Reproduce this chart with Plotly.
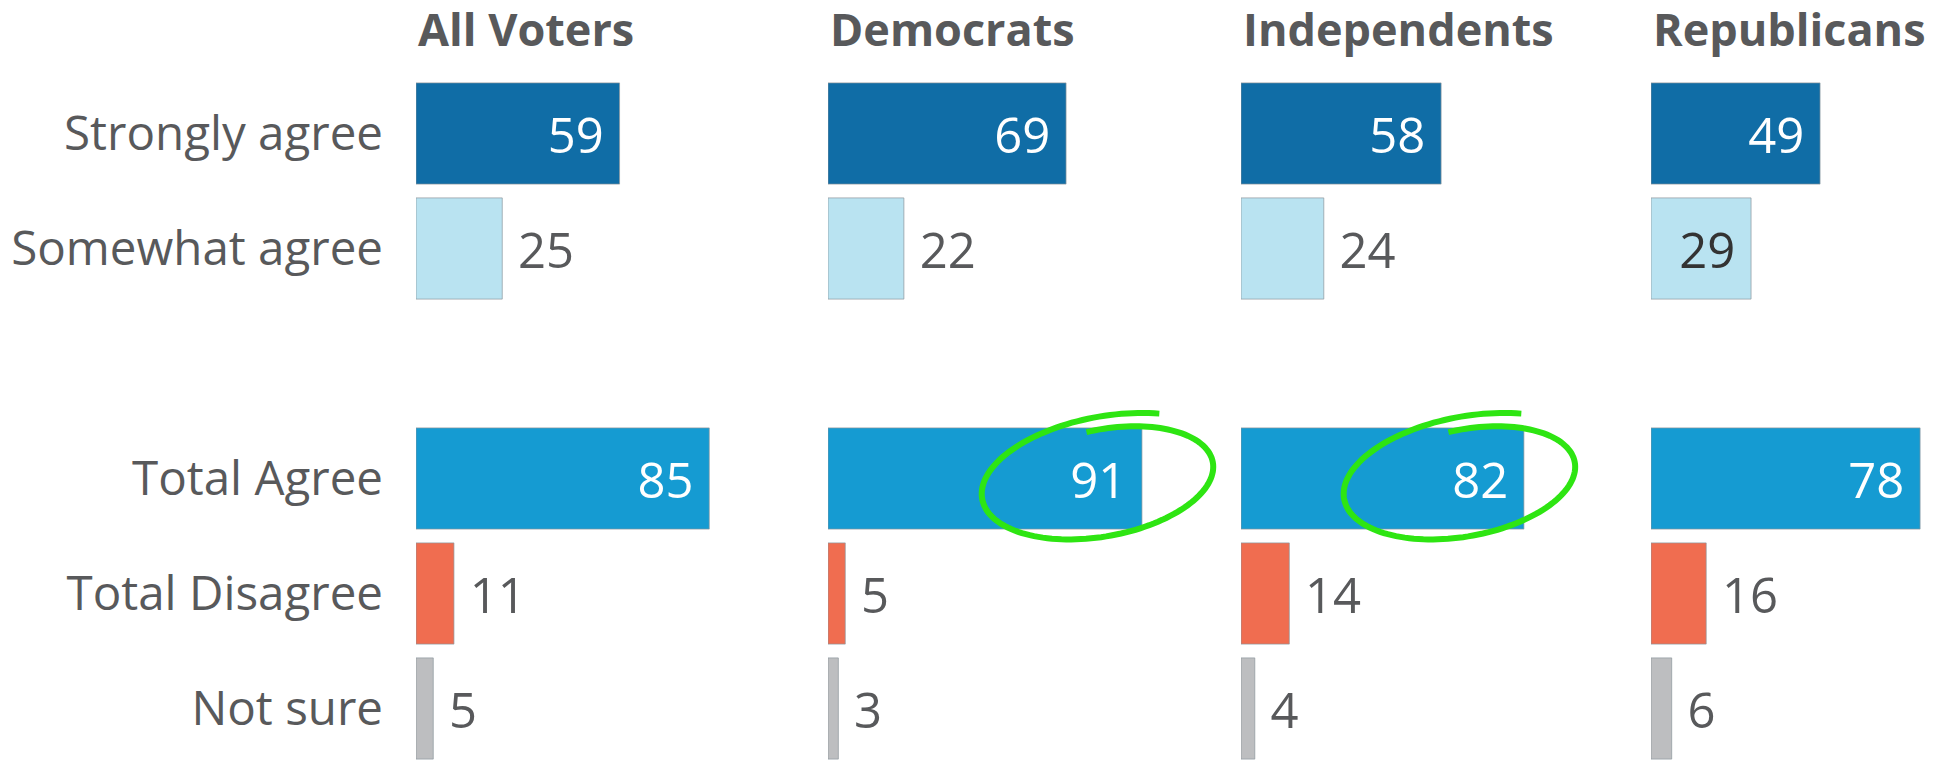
import numpy as np
import plotly.graph_objects as go
from plotly.subplots import make_subplots

# Survey results (percent)
groups = ["All Voters", "Democrats", "Independents", "Republicans"]
responses = ["Strongly agree", "Somewhat agree", "Total Agree", "Total Disagree", "Not sure"]
all_voters = [59, 25, 85, 11, 5]
democrats = [69, 22, 91, 5, 3]
independents = [58, 24, 82, 14, 4]
republicans = [49, 29, 78, 16, 6]
# bars with a hand-drawn circle around their value
circled = {"Democrats": "Total Agree", "Independents": "Total Agree"}

group_values = [all_voters, democrats, independents, republicans]
row_order = responses[:2] + [" "] + responses[2:]  # blank row between the two blocks

colors = {
    "Strongly agree": "#106da6",
    "Somewhat agree": "#b9e3f1",
    "Total Agree": "#159bd2",
    "Total Disagree": "#f06d50",
    "Not sure": "#bdbec0",
}
inside_color = {
    "Strongly agree": "white",
    "Somewhat agree": "#333333",
    "Total Agree": "white",
    "Total Disagree": "white",
    "Not sure": "#333333",
}
FONT = "Open Sans"
GRAY = "#58595b"
# page body has an 8px margin, so the figure is a bit smaller than the window
W, H = 1926, 752
TOP = 68
ROW = 115
PX_PER_UNIT = 3.45
zero_px = [408, 820, 1233, 1643]
circle_shift = {"Democrats": -38, "Independents": -58}

fig = make_subplots(rows=1, cols=4, shared_yaxes=True, horizontal_spacing=0)

for i, (grp, vals) in enumerate(zip(groups, group_values)):
    pos = ["inside" if v >= 27 else "outside" for v in vals]
    text = [f"{v}\u00a0" if p == "inside" else f"\u00a0{v}" for v, p in zip(vals, pos)]
    fig.add_trace(
        go.Bar(
            x=vals,
            y=responses,
            orientation="h",
            marker=dict(color=[colors[r] for r in responses],
                        line=dict(color="rgba(140,150,155,0.7)", width=1)),
            text=text,
            textposition=pos,
            insidetextanchor="end",
            insidetextfont=dict(color=[inside_color[r] for r in responses], size=49, family=FONT),
            outsidetextfont=dict(color=GRAY, size=49, family=FONT),
            constraintext="none",
            cliponaxis=False,
            hoverinfo="skip",
            showlegend=False,
        ),
        row=1, col=i + 1,
    )

    # panel placement
    x0 = zero_px[i]
    x1 = min(x0 + 400, W)
    axis = "xaxis" if i == 0 else f"xaxis{i + 1}"
    fig.layout[axis].update(domain=[x0 / W, x1 / W], range=[0, (x1 - x0) / PX_PER_UNIT],
                            visible=False, fixedrange=True, automargin=False)

    # column header
    xref = "x domain" if i == 0 else f"x{i + 1} domain"
    yref = "y domain" if i == 0 else f"y{i + 1} domain"
    fig.add_annotation(
        text=f"<b>{grp}</b>", x=0, y=(H - 20) / (H - TOP), xref=xref, yref=yref,
        xanchor="left", yanchor="middle", showarrow=False,
        font=dict(family=FONT, size=45, color=GRAY),
    )

    # green hand-drawn loop
    if grp in circled:
        k = responses.index(circled[grp])
        v = vals[k]
        cx_px = x0 + (v * PX_PER_UNIT) + circle_shift[grp]
        cy_px = TOP + (row_order.index(circled[grp]) + 0.5) * ROW + 1
        a, b, phi = 120, 58, np.deg2rad(10)
        t = np.deg2rad(np.linspace(95, -300, 160))
        s = np.linspace(0.86, 1.1, t.size)
        ex = a * s * np.cos(t)
        ey = b * s * np.sin(t)
        rx = ex * np.cos(phi) - ey * np.sin(phi)
        ry = ex * np.sin(phi) + ey * np.cos(phi)
        px = cx_px + rx
        py = cy_px - ry
        xs = (px - x0) / PX_PER_UNIT
        ys = (H - py) / (H - TOP)
        path = "M " + " L ".join(f"{xx:.2f},{yy:.4f}" for xx, yy in zip(xs, ys))
        fig.add_shape(type="path", path=path,
                      xref="x" if i == 0 else f"x{i + 1}", yref=yref,
                      line=dict(color="#2ee512", width=6))

fig.update_yaxes(
    type="category", categoryorder="array", categoryarray=row_order,
    range=[len(row_order) - 0.5 - (ROW * len(row_order) - (H - TOP)) / ROW, -0.5],
    showgrid=False, zeroline=False, showline=False, ticks="", fixedrange=True,
    tickfont=dict(family=FONT, size=47.5, color=GRAY),
    ticklabelstandoff=32, automargin=False,
)
fig.update_yaxes(showticklabels=False, col=2)
fig.update_yaxes(showticklabels=False, col=3)
fig.update_yaxes(showticklabels=False, col=4)

fig.update_layout(
    width=W, height=H,
    margin=dict(l=0, r=0, t=TOP, b=0, autoexpand=False),
    bargap=0.12,
    plot_bgcolor="white", paper_bgcolor="white",
    font=dict(family=FONT, color=GRAY),
)

fig.write_html("out.html")
